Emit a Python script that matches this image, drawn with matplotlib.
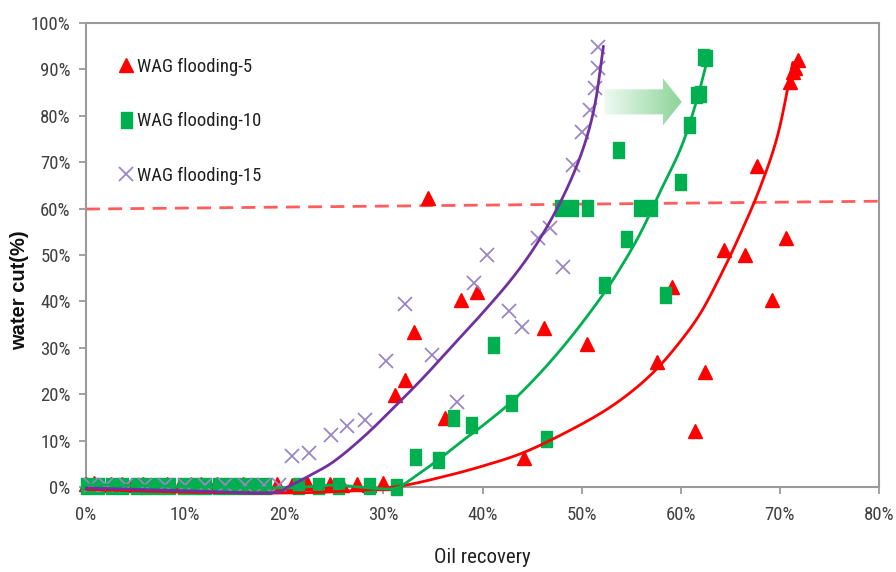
import numpy as np
import matplotlib
matplotlib.use("Agg")
import matplotlib.pyplot as plt
from matplotlib import font_manager as fm
from matplotlib.patches import Polygon
from matplotlib.path import Path
from matplotlib.lines import Line2D

# ---- measured points: oil recovery (%) vs water cut (%) ----
wag5_x = [0.0, 0.8, 1.6, 2.5, 3.6, 4.6, 5.8, 7.0, 8.2, 9.5, 10.6, 11.6, 12.4, 13.2,
          14.5, 15.8, 17.0, 18.2, 19.3, 20.8, 22.3, 23.5, 24.6, 25.8, 27.3, 28.5, 30.0,
          31.2, 32.2, 33.1, 36.2, 34.5, 37.8, 39.4, 44.2, 46.2, 50.5, 59.1, 57.6, 61.4,
          62.4, 64.4, 66.5, 67.7, 69.2, 70.6, 71.0, 71.3, 71.5, 71.8]
wag5_y = [0.6, 0.8, 0.5, 0.7, 0.6, 0.4, 0.7, 0.5, 0.6, 0.4, 0.6, 0.7, 0.5, 0.6,
          0.4, 0.6, 0.5, 0.4, 0.6, 0.5, 0.8, 0.4, 0.7, 0.5, 0.6, 0.4, 0.8,
          19.8, 23.0, 33.4, 14.9, 62.3, 40.3, 42.0, 6.3, 34.3, 30.8, 43.1, 26.9, 12.1,
          24.8, 51.1, 50.0, 69.2, 40.3, 53.7, 87.3, 89.4, 90.3, 92.0]

wag10_x = [0.0, 1.2, 2.5, 3.6, 5.0, 6.1, 7.3, 8.4, 9.8, 10.9, 12.0, 13.3, 14.4, 15.6,
           16.8, 18.1, 21.4, 23.4, 25.4, 28.6, 31.3, 33.2, 35.5, 37.0, 38.8, 41.1, 42.9,
           46.4, 47.8, 49.0, 50.5, 52.3, 53.7, 54.5, 55.8, 57.0, 58.4, 59.9, 60.8, 61.5,
           61.9, 62.2, 62.5]
wag10_y = [0.3, 0.2, 0.3, 0.2, 0.3, 0.2, 0.3, 0.2, 0.3, 0.2, 0.3, 0.2, 0.3, 0.2,
           0.3, 0.2, 0.3, 0.2, 0.3, 0.2, 0.0, 6.5, 5.8, 14.9, 13.4, 30.6, 18.1,
           10.3, 60.1, 60.1, 60.1, 43.5, 72.6, 53.4, 60.1, 60.1, 41.4, 65.7, 78.0, 84.5,
           84.7, 92.7, 92.5]

wag15_x = [0.5, 2.0, 4.0, 6.0, 8.0, 10.0, 12.0, 14.0, 16.0, 18.0, 19.5, 20.8, 22.5,
           24.7, 26.3, 28.1, 30.3, 32.2, 34.9, 37.4, 39.1, 40.5, 42.7, 44.0, 45.6, 46.8,
           48.1, 49.1, 50.0, 50.8, 51.3, 51.7, 51.7]
wag15_y = [0.5, 0.4, 0.5, 0.4, 0.5, 0.4, 0.5, 0.4, 0.5, 0.4, 0.5, 6.7, 7.3,
           11.2, 13.1, 14.4, 27.2, 39.4, 28.4, 18.3, 44.0, 50.0, 37.9, 34.5, 53.7, 55.8,
           47.4, 69.4, 76.5, 81.3, 86.0, 90.3, 94.8]

# ---- fitted trend curves (knots along each curve) ----
fit5_x = [0, 10, 20, 27, 31.7, 36, 40, 44, 48, 52, 55, 57.6, 60, 62, 64, 66, 68,
          69.8, 71.3]
fit5_y = [-0.5, -1.1, -1.3, -0.8, 0.2, 2.2, 4.5, 7.3, 11.3, 16.0, 20.5, 25.5, 31.5,
          37.5, 45.5, 54.5, 64.5, 76.0, 91.5]

fit10_x = [0, 10, 20, 25, 29, 31.3, 33, 35.5, 38, 40, 43, 46, 49, 52, 54, 56, 58,
           60, 61.5, 62.8]
fit10_y = [0.5, 0.1, -0.2, 0.4, -0.3, -0.2, 2.0, 5.8, 10.0, 13.2, 18.5, 25.0, 32.5,
           41.0, 47.5, 55.0, 64.0, 73.0, 82.5, 93.0]

fit15_x = [0, 10, 18.5, 20.5, 22.5, 25, 28, 31, 34, 37, 40, 43, 45.5, 48, 50, 51.3,
           52.2]
fit15_y = [-0.2, -0.8, -1.3, 0.2, 2.4, 5.5, 10.8, 17.0, 23.5, 30.5, 37.5, 45.0,
           52.5, 62.0, 72.0, 82.0, 95.0]

# 60 % water-cut reference line
ref_x = [0, 80.3]
ref_y = [59.9, 61.6]

x_ticks = [0, 10, 20, 30, 40, 50, 60, 70, 80]
y_ticks = [0, 10, 20, 30, 40, 50, 60, 70, 80, 90, 100]
x_labels = [f"{v}%" for v in x_ticks]
y_labels = [f"{v}%" for v in y_ticks]
series_labels = ["WAG flooding-5", "WAG flooding-10", "WAG flooding-15"]

RED = "#ff0000"
GREEN = "#00b050"
PURPLE_LINE = "#7030a0"
PURPLE_MARK = "#9a86c4"
GREY = "#9a9a9a"
TXT = "#404040"

# pick a narrow sans face when one is installed
installed = fm.fontManager.ttflist
names = {f.name for f in installed}
font_kw = {"family": ["Liberation Sans", "DejaVu Sans"]}
size_scale = 0.88
for cand in ["Liberation Sans Narrow", "Arial Narrow", "Roboto Condensed",
             "Open Sans Condensed"]:
    if cand in names:
        font_kw = {"family": [cand, "DejaVu Sans"]}
        size_scale = 1.0
        break
else:
    cond = [f for f in installed if f.stretch in ("condensed", "semi-condensed")
            or (isinstance(f.stretch, int) and f.stretch < 500)]
    if cond:
        font_kw = {"family": [cond[0].name, "DejaVu Sans"], "stretch": "condensed"}
        size_scale = 1.0


def fsize(s):
    return s * size_scale


def smooth(xs, ys, n=24):
    """Catmull-Rom pass through the curve knots for a smooth stroke."""
    p = np.column_stack([xs, ys]).astype(float)
    p = np.vstack([2 * p[0] - p[1], p, 2 * p[-1] - p[-2]])
    t = np.linspace(0, 1, n)[:, None]
    out = []
    for i in range(1, len(p) - 2):
        p0, p1, p2, p3 = p[i - 1], p[i], p[i + 1], p[i + 2]
        seg = 0.5 * (2 * p1 + (-p0 + p2) * t + (2 * p0 - 5 * p1 + 4 * p2 - p3) * t ** 2
                     + (-p0 + 3 * p1 - 3 * p2 + p3) * t ** 3)
        out.append(seg if i == 1 else seg[1:])
    s = np.vstack(out)
    return s[:, 0], s[:, 1]


# slightly tall square marker
tall_square = Path([(-0.36, -0.5), (0.36, -0.5), (0.36, 0.5), (-0.36, 0.5), (-0.36, -0.5)],
                   [Path.MOVETO, Path.LINETO, Path.LINETO, Path.LINETO, Path.CLOSEPOLY])

fig = plt.figure(figsize=(8.96, 5.72), dpi=100)
ax = fig.add_axes([86 / 896, 85 / 572, 793 / 896, 464 / 572])
ax.set_xlim(0, 80)
ax.set_ylim(0, 100)

ax.plot(ref_x, ref_y, color="#ff4040", lw=2.0, dashes=(5, 3), alpha=0.85,
        clip_on=False, zorder=2)

ax.plot(wag5_x, wag5_y, ls="none", marker="^", ms=9.5, color=RED, mec=RED,
        clip_on=False, zorder=3)
ax.plot(wag10_x, wag10_y, ls="none", marker=tall_square, ms=11, color=GREEN, mec=GREEN,
        clip_on=False, zorder=4)
ax.plot(wag15_x, wag15_y, ls="none", marker="x", ms=10, mew=1.3, color=PURPLE_MARK,
        clip_on=False, zorder=5)

for fx, fy, col, z in [(fit5_x, fit5_y, RED, 6), (fit10_x, fit10_y, GREEN, 6),
                       (fit15_x, fit15_y, PURPLE_LINE, 7)]:
    sx, sy = smooth(fx, fy)
    ax.plot(sx, sy, color=col, lw=2.0, clip_on=False, zorder=z,
            solid_capstyle="round", solid_joinstyle="round")

# gradient arrow pointing right
arrow_pts = [(52.3, 80.3), (58.2, 80.3), (58.2, 77.9), (60.1, 83.0),
             (58.2, 88.1), (58.2, 85.7), (52.3, 85.7)]
arrow = Polygon(arrow_pts, closed=True, facecolor="none", edgecolor="none",
                transform=ax.transData)
ax.add_patch(arrow)
grad = np.linspace(0, 1, 256).reshape(1, -1)
c0 = np.array([0.94, 0.98, 0.95])
c1 = np.array([0.55, 0.83, 0.60])
rgb = c0[None, None, :] + (c1 - c0)[None, None, :] * grad[..., None]
im = ax.imshow(rgb, extent=(52.3, 60.1, 77.9, 88.1), aspect="auto",
               interpolation="bilinear", zorder=2)
im.set_clip_path(arrow)
ax.set_xlim(0, 80)
ax.set_ylim(0, 100)

for s in ax.spines.values():
    s.set_color(GREY)
    s.set_linewidth(1.5)

ax.set_xticks(x_ticks)
ax.set_xticklabels(x_labels, fontsize=fsize(13.5), color=TXT, **font_kw)
ax.set_yticks(y_ticks)
ax.set_yticklabels(y_labels, fontsize=fsize(13.5), color=TXT, **font_kw)
ax.tick_params(axis="both", direction="out", length=5, width=1.3, color=GREY)
ax.tick_params(axis="x", pad=9)
ax.tick_params(axis="y", pad=6)

ax.set_xlabel("Oil recovery", fontsize=fsize(15), color="#202020", **font_kw)
ax.xaxis.set_label_coords(0.5, -0.132)
ax.set_ylabel("water cut(%)", family=["Liberation Sans", "DejaVu Sans"], fontsize=14.5,
              fontweight="bold", color="#111111")
ax.yaxis.set_label_coords(-0.072, 0.425)

handles = [
    Line2D([], [], ls="none", marker="^", ms=9.5, color=RED, mec=RED),
    Line2D([], [], ls="none", marker=tall_square, ms=11, color=GREEN, mec=GREEN),
    Line2D([], [], ls="none", marker="x", ms=10, mew=1.3, color=PURPLE_MARK),
]
leg_prop = {"size": fsize(13.5)}
leg_prop.update(font_kw)
leg = ax.legend(handles, series_labels, loc="upper left", bbox_to_anchor=(0.022, 0.962),
                frameon=False, handlelength=0.6, handletextpad=0.3, labelspacing=1.95,
                prop=leg_prop)
for t in leg.get_texts():
    t.set_color("#202020")

fig.savefig("out.png", dpi=100)
